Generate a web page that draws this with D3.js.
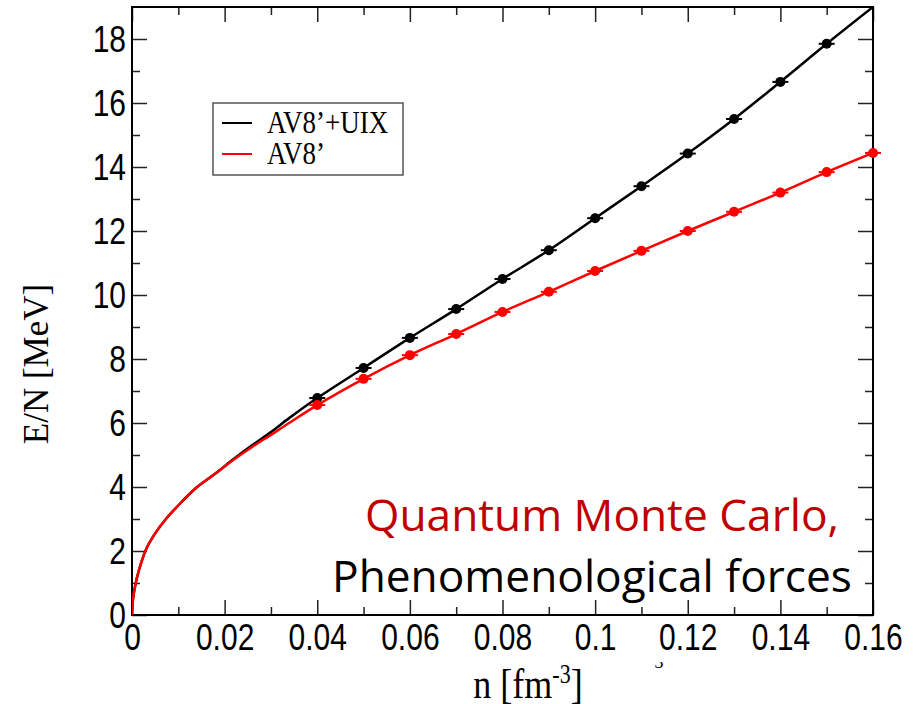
<!DOCTYPE html>
<html>
<head>
<meta charset="utf-8">
<script src="https://cdn.jsdelivr.net/npm/d3@7"></script>
<style>
  body { margin: 0; background: #fff; }
  svg { display: block; }
</style>
</head>
<body>
<svg id="chart" width="923" height="704"></svg>
<script>
// QMC points (with error-bar caps)
const uixN = [0.04, 0.05, 0.06, 0.07, 0.08, 0.09, 0.10, 0.11, 0.12, 0.13, 0.14, 0.15];
const uixE = [6.78, 7.72, 8.66, 9.56, 10.50, 11.40, 12.40, 13.40, 14.42, 15.50, 16.66, 17.85];
const av8N = [0.04, 0.05, 0.06, 0.07, 0.08, 0.09, 0.10, 0.11, 0.12, 0.13, 0.14, 0.15, 0.16];
const av8E = [6.56, 7.38, 8.12, 8.78, 9.47, 10.10, 10.75, 11.38, 12.00, 12.60, 13.20, 13.84, 14.44];

// low-density part of the fitted curves
const lowN   = [0, 0.0002, 0.0007, 0.0015, 0.003, 0.005, 0.0075, 0.0105, 0.014, 0.018, 0.022, 0.026, 0.030, 0.034];
const lowUIX = [0, 0.48, 0.92, 1.40, 2.04, 2.55, 3.03, 3.50, 3.99, 4.42, 4.88, 5.31, 5.72, 6.16];
const lowAV8 = [0, 0.48, 0.92, 1.40, 2.04, 2.55, 3.03, 3.50, 3.99, 4.42, 4.86, 5.26, 5.63, 6.01];
// black curve leaves the frame at the top right corner
const uixTailN = [0.16];
const uixTailE = [19.0];

const xMajor = [0, 0.02, 0.04, 0.06, 0.08, 0.10, 0.12, 0.14, 0.16];
const xLabels = ['0', '0.02', '0.04', '0.06', '0.08', '0.1', '0.12', '0.14', '0.16'];
const xMinor = [0.01, 0.03, 0.05, 0.07, 0.09, 0.11, 0.13, 0.15];
const yMajor = [0, 2, 4, 6, 8, 10, 12, 14, 16, 18];
const yMinor = [1, 3, 5, 7, 9, 11, 13, 15, 17];

const legendLabels = ['AV8\u2019+UIX', 'AV8\u2019'];
const legendColors = ['#000', '#ff0000'];

const svg = d3.select('#chart');
const pLeft = 132, pRight = 873, pTop = 7, pBottom = 615;
const STRETCH = 1.2; // the picture's text is stretched a little vertically

const x = d3.scaleLinear().domain([0, 0.16]).range([pLeft, pRight]);
const y = d3.scaleLinear().domain([0, 19]).range([pBottom, pTop]);

const defs = svg.append('defs');
defs.append('clipPath').attr('id', 'plotClip')
  .append('rect').attr('x', pLeft).attr('y', pTop).attr('width', pRight - pLeft).attr('height', pBottom - pTop);

// axes: ticks point inwards on all four sides
function styleTicks(g) {
  g.select('.domain').remove();
  g.selectAll('line').attr('stroke', '#222').attr('stroke-width', 1.5);
}

const axes = svg.append('g');
axes.append('g').attr('transform', `translate(0,${pBottom})`)
  .call(d3.axisBottom(x).tickValues(xMajor).tickSize(-15).tickFormat((d, i) => xLabels[i]))
  .call(styleTicks)
  .call(g => g.selectAll('text')
    .attr('y', null).attr('dy', null)
    .attr('transform', `translate(0,35) scale(1,${STRETCH})`)
    .attr('fill', '#000')
    .style('font', '30px "Liberation Sans", Arial, sans-serif'));
axes.append('g').attr('transform', `translate(0,${pBottom})`)
  .call(d3.axisBottom(x).tickValues(xMinor).tickSize(-8).tickFormat(''))
  .call(styleTicks);
axes.append('g').attr('transform', `translate(0,${pTop})`)
  .call(d3.axisTop(x).tickValues(xMajor).tickSize(-15).tickFormat(''))
  .call(styleTicks);
axes.append('g').attr('transform', `translate(0,${pTop})`)
  .call(d3.axisTop(x).tickValues(xMinor).tickSize(-8).tickFormat(''))
  .call(styleTicks);

axes.append('g').attr('transform', `translate(${pLeft},0)`)
  .call(d3.axisLeft(y).tickValues(yMajor).tickSize(-15).tickFormat(d => String(d)))
  .call(styleTicks)
  .call(g => g.selectAll('text')
    .attr('x', -6).attr('dy', '0.36em')
    .attr('transform', `scale(1,${STRETCH})`)
    .attr('fill', '#000')
    .style('font', '30px "Liberation Sans", Arial, sans-serif'));
axes.append('g').attr('transform', `translate(${pLeft},0)`)
  .call(d3.axisLeft(y).tickValues(yMinor).tickSize(-8).tickFormat(''))
  .call(styleTicks);
axes.append('g').attr('transform', `translate(${pRight},0)`)
  .call(d3.axisRight(y).tickValues(yMajor).tickSize(-15).tickFormat(''))
  .call(styleTicks);
axes.append('g').attr('transform', `translate(${pRight},0)`)
  .call(d3.axisRight(y).tickValues(yMinor).tickSize(-8).tickFormat(''))
  .call(styleTicks);

svg.append('rect')
  .attr('x', pLeft).attr('y', pTop).attr('width', pRight - pLeft).attr('height', pBottom - pTop)
  .attr('fill', 'none').attr('stroke', '#000').attr('stroke-width', 2);

// curves
const line = d3.line().x(d => x(d[0])).y(d => y(d[1])).curve(d3.curveCatmullRom.alpha(0.5));
const uixCurve = lowN.map((n, i) => [n, lowUIX[i]])
  .concat(uixN.map((n, i) => [n, uixE[i]]))
  .concat(uixTailN.map((n, i) => [n, uixTailE[i]]));
const av8Curve = lowN.map((n, i) => [n, lowAV8[i]])
  .concat(av8N.map((n, i) => [n, av8E[i]]));

const curves = svg.append('g').attr('clip-path', 'url(#plotClip)');
curves.append('path').datum(uixCurve).attr('d', line)
  .attr('fill', 'none').attr('stroke', '#000').attr('stroke-width', 2.5);
curves.append('path').datum(av8Curve).attr('d', line)
  .attr('fill', 'none').attr('stroke', '#ff0000').attr('stroke-width', 2.5);

function drawPoints(ns, es, color) {
  const g = svg.append('g').selectAll('g')
    .data(ns.map((n, i) => [n, es[i]]))
    .join('g')
    .attr('transform', d => `translate(${x(d[0])},${y(d[1])})`);
  g.append('line').attr('x1', -8).attr('x2', 8)
    .attr('stroke', color).attr('stroke-width', 2);
  g.append('circle').attr('r', 5).attr('fill', color);
}
drawPoints(uixN, uixE, '#000');
drawPoints(av8N, av8E, '#ff0000');

// legend
const legend = svg.append('g');
legend.append('rect').attr('x', 213).attr('y', 103).attr('width', 190).attr('height', 72)
  .attr('fill', '#fff').attr('stroke', '#555').attr('stroke-width', 1.5);
legendLabels.forEach((label, i) => {
  const ly = 123 + i * 31;
  legend.append('line').attr('x1', 222).attr('x2', 252).attr('y1', ly).attr('y2', ly)
    .attr('stroke', legendColors[i]).attr('stroke-width', 2);
  legend.append('text')
    .attr('transform', `translate(267,${ly + 10}) scale(1,1.15)`)
    .style('font', '27px "Liberation Serif", "Times New Roman", serif')
    .attr('fill', '#000')
    .text(label);
});

// axis titles
svg.append('text')
  .attr('transform', 'translate(48,364) rotate(-90)')
  .attr('text-anchor', 'middle')
  .style('font', '35px "Liberation Serif", "Times New Roman", serif')
  .text('E/N [MeV]');

const xTitle = svg.append('text')
  .attr('transform', `translate(528,698) scale(1,${STRETCH})`)
  .attr('text-anchor', 'middle')
  .style('font', '36px "Liberation Serif", "Times New Roman", serif');
xTitle.append('tspan').text('n [fm');
xTitle.append('tspan').attr('dy', -12.5).style('font-size', '22px').text('-3');
xTitle.append('tspan').attr('dy', 12.5).text(']');

// stray fragment of a superscript peeking out under the text box
defs.append('clipPath').attr('id', 'fragClip')
  .append('rect').attr('x', 645).attr('y', 662).attr('width', 30).attr('height', 10);
svg.append('text')
  .attr('clip-path', 'url(#fragClip)')
  .attr('x', 659).attr('y', 668)
  .attr('text-anchor', 'middle')
  .style('font', '18px "Liberation Serif", serif')
  .text('3');

// annotation
const note1 = svg.append('text').attr('fill', '#c00000')
  .style('font-family', '"Open Sans", sans-serif').style('font-size', '40px')
  .text('Quantum Monte Carlo,');
const note2 = svg.append('text').attr('fill', '#000')
  .style('font-family', '"Open Sans", sans-serif').style('font-size', '40px')
  .text('Phenomenological forces');
const fs = 40 * (475 + 519) / (note1.node().getComputedTextLength() + note2.node().getComputedTextLength());
note1.style('font-size', fs + 'px').attr('text-anchor', 'middle').attr('x', 602).attr('y', 531);
note2.style('font-size', fs + 'px').attr('text-anchor', 'middle').attr('x', 592).attr('y', 592);
</script>
</body>
</html>
